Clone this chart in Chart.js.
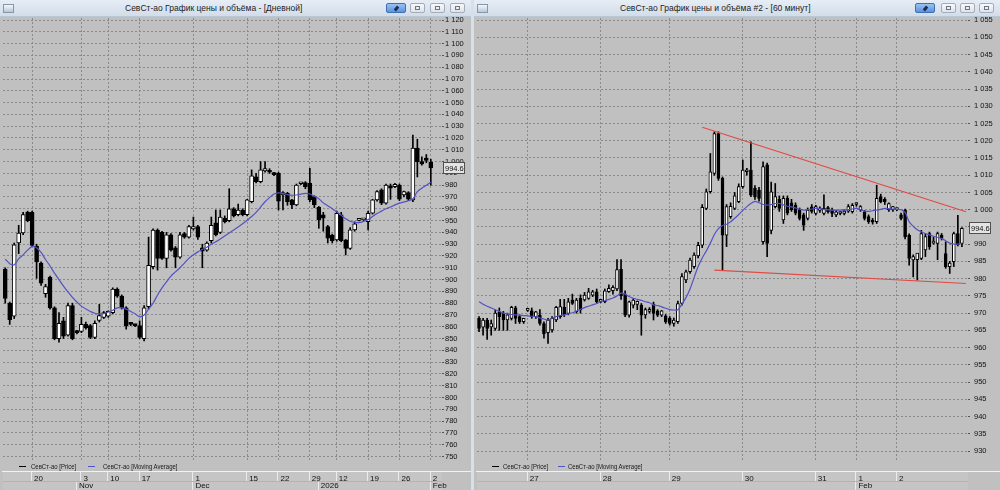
<!DOCTYPE html>
<html>
<head>
<meta charset="utf-8">
<script src="https://cdn.jsdelivr.net/npm/chart.js@4.4.1/dist/chart.umd.min.js"></script>
<style>
  body { margin: 0; width: 1000px; height: 490px; overflow: hidden; background: #d6e0eb; position: relative; font-family: 'Liberation Sans', Arial, sans-serif; }
  .win { position: absolute; top: 0; height: 490px; background: #c0c0c0; }
  .title { position: absolute; left: 0; top: 0; right: 0; height: 17px; background: linear-gradient(#e6edf5, #d2dde9); border-bottom: 1px solid #b9c6d4; box-sizing: border-box; }
  .ttl { position: absolute; top: 0; font-size: 8.5px; line-height: 16px; color: #1c1c1c; white-space: nowrap; }
  .ico { position: absolute; left: 3px; top: 4px; width: 9px; height: 7px; border: 1px solid #8797aa; background: linear-gradient(#f4f7fb, #b8c7d8); }
  .btn { position: absolute; top: 3px; width: 15px; height: 10px; border: 1px solid #a3adb9; border-radius: 2px; background: linear-gradient(#f6f8fb, #dfe4ea); box-sizing: border-box; }
  .btn i { position: absolute; left: 4px; top: 2px; width: 5px; height: 4px; border: 1px solid #6d7784; box-sizing: border-box; }
  .pin { width: 20px; background: linear-gradient(#9cc2f2, #5d92dc); border-color: #3f6fb5; }
  .pin i { left: 8px; top: 2px; width: 3px; height: 5px; border: none; background: #1d2d52; transform: rotate(40deg); }
  canvas { position: absolute; top: 17px; }
  .leg { position: absolute; top: 462px; font-size: 7.5px; color: #1a1a1a; white-space: nowrap; transform: scaleX(0.8); transform-origin: 0 0; }
  .sw { position: absolute; top: 466px; height: 1px; width: 7px; }
</style>
</head>
<body>
<div class="win" style="left:0;width:471px"></div>
<div class="win" style="left:474px;width:526px"></div>

<div class="title" style="left:0;width:471px;right:auto">
  <span class="ico"></span>
  <span class="ttl" style="left:125px">СевСт-ао График цены и объёма - [Дневной]</span>
  <span class="btn pin" style="left:386px"><i></i></span>
  <span class="btn" style="left:410px"><i></i></span>
  <span class="btn" style="left:430px"><i></i></span>
  <span class="btn" style="left:450px"><i></i></span>
</div>
<div class="title" style="left:474px;width:526px;right:auto">
  <span class="ico"></span>
  <span class="ttl" style="left:146px">СевСт-ао График цены и объёма #2 - [60 минут]</span>
  <span class="btn pin" style="left:441px"><i></i></span>
  <span class="btn" style="left:467px"><i></i></span>
  <span class="btn" style="left:486px"><i></i></span>
  <span class="btn" style="left:505px"><i></i></span>
</div>

<canvas id="daily" width="469" height="473" style="left:2px"></canvas>
<canvas id="hourly" width="524" height="473" style="left:476px"></canvas>

<span class="sw" style="left:19px;background:#000"></span>
<span class="leg" style="left:31px">СевСт-ао [Price]</span>
<span class="sw" style="left:88px;background:#5252c4"></span>
<span class="leg" style="left:103px">СевСт-ао [Moving Average]</span>
<span class="sw" style="left:492px;background:#000"></span>
<span class="leg" style="left:503px">СевСт-ао [Price]</span>
<span class="sw" style="left:558px;background:#5252c4"></span>
<span class="leg" style="left:568px">СевСт-ао [Moving Average]</span>

<script>
// ---- daily panel ----
const dSlots = 98;
const dDayTickSlots = [6, 17, 23, 30, 42, 54, 61, 68, 74, 81, 88, 95];
const dDayTickText = ["20", "3", "10", "17", "1", "15", "22", "29", "12", "19", "26", "2"];
const dMonthSlots = [16, 42, 70, 95];
const dMonthText = ["Nov", "Dec", "2026", "Feb"];

const dOpen = [909, 880, 869, 931, 939.5, 957, 957, 928.5, 914, 888,
  902, 876, 850, 865, 853, 878, 856, 856, 862, 861,
  851, 865.5, 868, 869, 872, 892, 886, 876, 862.5, 861.5,
  861, 850, 877, 911, 942, 940, 918, 938, 927, 919,
  939, 936, 943, 945, 927, 925, 933, 948, 940, 952,
  950, 960, 955, 959, 955, 966, 987, 983, 992, 992,
  990, 990, 971.7, 973.2, 967.5, 963.3, 981.2, 982.2, 981.6, 970.3,
  961.3, 954.8, 944.9, 937.8, 933.6, 954.8, 933.6, 926.5, 942.1, 950.2,
  950.6, 949.1, 956.2, 967.5, 976, 964.7, 979.4, 978.8, 980.2, 971.7,
  973.7, 967.5, 1011.5, 1000, 1003, 999.5];
const dHigh = [910, 881, 931, 946, 957, 958, 958, 930, 915, 896,
  903, 877, 872, 868, 880, 880, 857, 868, 864, 862,
  865, 879, 873, 873.5, 893, 893, 887, 877, 863, 862,
  865, 878, 936, 943, 943, 941, 940, 939, 928, 940,
  940, 946, 953, 946, 930, 932, 953, 959, 959, 954,
  977, 961, 964, 960, 968, 993, 990, 1000, 1000, 994,
  991, 991, 974.5, 974, 968, 981, 982, 983, 994.3, 971,
  962, 957, 946, 938.5, 958, 957, 934, 944, 949, 951,
  951.5, 958, 968, 975.5, 977, 981, 981, 981.5, 981, 975,
  974.5, 1022.5, 1019, 1004, 1006, 1002];
const dLow = [880, 862, 867, 922, 938, 949, 928, 901, 895, 885,
  875, 849, 847, 850, 852, 849, 854, 855, 858, 850,
  850, 864, 867, 868, 871, 885, 875, 858, 861, 860,
  850, 848, 875, 909, 908, 917, 910, 924, 910, 918,
  935, 935, 942, 934, 910, 924, 931, 937, 939, 948,
  949, 953, 954, 954, 954, 965, 982, 982, 991, 990,
  988, 959, 959, 963, 960, 962.5, 980.5, 977, 966, 961,
  943.5, 941, 931, 931, 932.5, 932, 920.9, 925.5, 941, 949.8,
  950, 942, 955.5, 966.5, 963.5, 964, 968, 978, 967, 970,
  967, 966, 987, 997, 999, 980];
const dClose = [884, 866, 929.5, 939.5, 955, 950, 929, 915, 897, 894,
  876, 850, 863, 852, 878, 850, 855, 862, 859, 851,
  863, 869.5, 872, 873, 892, 886, 876, 861, 862, 861,
  851, 876, 912, 942, 918, 918, 938, 925, 919, 938,
  936, 945, 945, 936, 924, 931, 946, 938, 953, 949,
  960, 954, 959, 955, 967.5, 988, 983, 993, 994, 991,
  989, 966.5, 973.7, 966, 963.3, 980.2, 981.6, 978.8, 967.5, 963.3,
  950.6, 952, 935, 933, 956.2, 933, 926.5, 942.1, 947.2, 950.6,
  951, 956.2, 967.5, 974.6, 964.7, 980.2, 977.4, 980.8, 968.1, 974.6,
  968.1, 1011.5, 1000, 998, 1001, 994.6];
const dMA = [917.4, 913.5, 912.5, 917.5, 921, 925, 928, 927, 923, 917,
  911.5, 905.5, 900, 894.5, 889.5, 885, 881, 877.5, 875, 873,
  871.5, 871, 871.2, 872.5, 874, 876, 876, 875, 873, 871,
  868.5, 870, 875, 880, 887, 893, 898, 903, 906.5, 910,
  914, 918, 921, 923.5, 925.5, 927.5, 930, 932, 934.5, 937,
  939.5, 942, 944.5, 947.3, 950.3, 953.5, 957, 961.5, 966, 969.5,
  972.5, 973.5, 973, 972, 971.5, 971.7, 972.5, 973, 972.5, 970.5,
  968.5, 965, 962.5, 960, 957.3, 954.5, 951.5, 949.5, 948.5, 948.3,
  949.3, 950.8, 953.5, 956, 958, 960, 961.5, 963.3, 964.8, 965.8,
  966.8, 968.5, 974.5, 977.5, 980, 982.5];

// ---- hourly panel ----
const hSlots = 121;
const hDayTickSlots = [12, 30, 47, 65, 83, 93, 103];
const hDayTickText = ["27", "28", "29", "30", "31", "1", "2"];
const hMonthSlots = [93];
const hMonthText = ["Feb"];

const hOpen = [968.5, 965.9, 968, 966, 965.6, 970.4, 970, 968, 968.5, 971.5,
  969, 967.5, 970.8, 970.7, 969, 969.4, 967, 964.3, 965.1, 968,
  969, 971.7, 969.9, 973.8, 970.4, 974.3, 973.8, 974.3, 975.2, 976.2,
  973.4, 973.3, 976.2, 976.5, 977, 982.7, 975.5, 969.4, 972.3, 972.5,
  972.3, 969.5, 970.5, 972.6, 970.7, 969.4, 969.2, 968.5, 967, 967.5,
  972.8, 979.6, 982, 983.5, 986.6, 989.7, 1000.4, 1005.2, 1010.5, 1022.1,
  1009.1, 992.6, 998, 1000.4, 1002.3, 1006.7, 1011, 1011.5, 1006.2, 1005.7,
  990.7, 1013, 994, 1000.9, 1003, 997, 1003.3, 1002, 1001.3, 999.9,
  998.5, 997.5, 1000.8, 998.9, 999.8, 998.9, 1000.6, 999.8, 998.5, 998.9,
  998.9, 999.6, 999.4, 1001.5, 999.9, 999.4, 998, 997, 996.5, 1003.8,
  1003, 999.9, 999.9, 1000, 998.5, 999.9, 992.6, 985.4, 985.5, 985.9,
  988.3, 993.1, 990.3, 990.2, 992.6, 987.3, 983.5, 984.9, 993.1, 990.2];
const hHigh = [969, 968.5, 968.5, 968, 970.9, 971.5, 970.5, 970, 972, 972,
  969.5, 968.5, 971.2, 971.5, 970.5, 971, 967.5, 968.5, 969, 972,
  974, 974, 974.3, 975.5, 974.3, 975.3, 976, 977.2, 976.6, 977,
  973.8, 977, 978.2, 978, 985.5, 985.5, 976.5, 973.5, 974.2, 973.5,
  972.8, 971.5, 971.6, 973.2, 971, 970.8, 969.6, 969, 968.6, 973.5,
  981.5, 982.5, 986, 987.5, 990.5, 1001.5, 1006, 1016.3, 1022.6, 1022.6,
  1009.5, 1001.5, 1002, 1005, 1007.5, 1014.4, 1012, 1019.7, 1007, 1006.5,
  1013.9, 1013.5, 1008, 1007.6, 1004, 1004, 1004, 1003, 1002, 1000.5,
  999, 1000.5, 1001.5, 1001.3, 1000.8, 1004.3, 1001, 1000.5, 999.8, 999.4,
  1000, 1001.5, 1001.8, 1002, 1001.2, 999.8, 998.5, 997.5, 1007.1, 1004.5,
  1003.5, 1002, 1001, 1000.5, 999, 1000.2, 993, 986.9, 987, 994,
  993, 993.5, 992, 993.5, 993.1, 990.7, 985, 993.5, 998.4, 994.8];
const hLow = [964.6, 963.6, 962.4, 963.6, 965, 965, 965, 965, 968, 967,
  967, 967, 970.5, 968.5, 968.5, 966.5, 962.7, 961.2, 964.5, 967.5,
  968.5, 969, 969.5, 972.5, 970, 970, 973.5, 974, 974.8, 972.8,
  973, 973, 976, 975.5, 976.5, 974, 969, 968.8, 971.5, 971,
  963.6, 968.5, 970, 968, 969, 969, 967, 966.5, 966.2, 967,
  972.3, 978.8, 981.5, 983, 986, 989, 1000, 1004.8, 1010, 1008.5,
  982.5, 989.3, 997.5, 1000, 1002, 1006.2, 1010, 1003.8, 1003, 1002.5,
  990, 986.4, 993, 1000.5, 999.5, 996, 998.5, 999.5, 998.5, 997,
  994, 997, 999, 998.5, 999.2, 998.5, 999, 998, 998, 998.5,
  998.5, 999.2, 999, 1001, 999.5, 997, 996, 995.8, 996, 1002,
  1001.5, 999.5, 999.5, 999.7, 997, 991.5, 983.9, 980.5, 979.6, 985.5,
  986.4, 988.5, 990, 985.5, 991.2, 983, 981.5, 983.5, 989.5, 989.3];
const hClose = [965.6, 968, 965.6, 967, 970, 969, 968, 969.5, 971.7, 968.5,
  967.5, 968.5, 971, 969, 970.4, 967, 964, 968, 968.5, 971.7,
  971.9, 969.5, 973.3, 972.8, 973.8, 970.9, 975.2, 976.2, 976.2, 973.3,
  973.6, 976.5, 977.2, 977.5, 982.6, 975, 969.4, 973.3, 973.8, 973.4,
  969.4, 971, 971, 969.9, 969.4, 970.7, 967.5, 967, 968, 972.8,
  980.6, 982, 985.4, 986.8, 989.7, 1000.7, 1005.2, 1011, 1022.1, 1009.1,
  992.6, 1000.9, 1001, 1004, 1006.7, 1011.5, 1011.5, 1004.2, 1003.8, 1003.3,
  1012.5, 990.2, 1005.2, 1003.8, 1000.4, 1003.3, 999, 1000, 999, 997.5,
  995.5, 999.9, 999.5, 1000.9, 1000.5, 1000.4, 999.4, 998.9, 999.4, 999.1,
  999.6, 1000.9, 1001.3, 1001.6, 1000.9, 997.5, 996.5, 996.4, 1003.3, 1002.3,
  1002.3, 1001.8, 1000.9, 1000.1, 997.5, 992.2, 985.9, 986.4, 987.4, 993.1,
  992.2, 989.2, 990.8, 993.1, 991.7, 983.5, 984.5, 993.1, 989.8, 994.6];
const hMA = [973.3, 972.6, 972, 971.5, 971, 970.5, 970, 969.8, 969.6, 969.5,
  969.4, 969.3, 969.2, 969.1, 969, 968.6, 968.3, 968, 968.5, 969,
  969.3, 969.5, 969.8, 970.1, 970.6, 971.1, 971.6, 972, 972.4, 972.8,
  973.3, 973.6, 974, 974.4, 975, 975.8, 975.5, 974.8, 974.3, 974,
  973.7, 973.3, 973, 972.4, 972.2, 971.8, 971.4, 971, 970.9, 971,
  972.6, 974.5, 977, 980.3, 983.5, 986, 988, 990.3, 992.8, 994.5,
  995.4, 995.8, 996.5, 997.5, 998.6, 999.8, 1000.9, 1001.8, 1002.4, 1002,
  1001.5, 1001.3, 1001.5, 1001.8, 1001.8, 1001.4, 1001, 1000.8, 1000.5, 1000.2,
  999.9, 1000, 1000.2, 1000.4, 1000.3, 1000.1, 1000, 999.9, 999.9, 999.9,
  999.9, 1000, 1000.2, 1000.4, 1000, 999.6, 999.5, 999.7, 999.9, 1000.1,
  1000.4, 1000.3, 1000.2, 1000.1, 1000, 999.2, 996.5, 995.2, 994.2, 993.6,
  993.1, 992.7, 992.3, 992, 991.6, 991, 990.3, 990, 990, 990.2];
// trend lines: [slot, price] end points
const hUpperTrend = [[55, 1023.9], [120, 999.4]];
const hLowerTrend = [[58, 982.5], [120, 978.6]];

const FONT = "'Liberation Sans', Arial, sans-serif";
const GRID = "#8a8a8a";
const MA_COLOR = "#5252c4";
const TREND_COLOR = "#e04a44";

function labelsFor(n, slots, text) {
  const out = new Array(n).fill("");
  slots.forEach((s, i) => { out[s] = text[i]; });
  return out;
}

function lineFrom(n, points) {
  const out = new Array(n).fill(null);
  points.forEach(([s, v]) => { out[s] = v; });
  return out;
}

function thousands(v) {
  return v >= 1000 ? "1 " + String(v - 1000).padStart(3, "0") : String(v);
}

// no automatic edge padding: the plot fills the window edge to edge
function noPad(s) {
  s.paddingLeft = 0; s.paddingRight = 0; s.paddingTop = 0; s.paddingBottom = 0;
}

// axis strip below the legend row
const stripPlugin = {
  id: "strip",
  beforeDraw(chart) {
    const { ctx, chartArea } = chart;
    const xs = chart.scales.x;
    const top = xs.top + 12;
    ctx.save();
    ctx.fillStyle = "#c5c5c5";
    ctx.fillRect(chartArea.left, top, chartArea.right - chartArea.left, chart.height - top);
    ctx.fillStyle = "#f2f2f2";
    ctx.fillRect(0, top - 1, chart.width, 1);
    ctx.restore();
  },
  afterDraw(chart) {
    const { ctx } = chart;
    const xs = chart.scales.x;
    const x2 = chart.scales.x2;
    const top = xs.top + 12;
    ctx.save();
    ctx.fillStyle = "#ececec";
    xs.ticks.forEach((t, i) => {
      if (t.label) ctx.fillRect(Math.round(xs.getPixelForTick(i)) - 1, top, 1, x2.top - top);
    });
    x2.ticks.forEach((t, i) => {
      if (t.label) ctx.fillRect(Math.round(x2.getPixelForTick(i)) - 1, x2.top, 1, chart.height - x2.top);
    });
    ctx.fillStyle = "#b3b3b3";
    ctx.fillRect(chart.chartArea.left, x2.top, chart.chartArea.right - chart.chartArea.left, 1);
    ctx.restore();
  }
};

// last price tag on the value axis
const priceTagPlugin = {
  id: "priceTag",
  afterDraw(chart, args, opts) {
    const ys = chart.scales.y;
    const y = Math.round(ys.getPixelForValue(opts.value));
    const { ctx } = chart;
    ctx.save();
    ctx.fillStyle = "#e4e4e4";
    ctx.strokeStyle = "#505050";
    ctx.lineWidth = 1;
    ctx.fillRect(ys.left + 1, y - 6, 22, 12);
    ctx.strokeRect(ys.left + 1.5, y - 5.5, 21, 11);
    ctx.fillStyle = "#111";
    ctx.font = "7.5px " + FONT;
    ctx.textBaseline = "middle";
    ctx.fillText(String(opts.value), ys.left + 3, y + 0.5);
    ctx.restore();
  }
};

function makeChart(id, p) {
  const n = p.slots;
  const wick = p.low.map((l, i) => [l, p.high[i]]);
  const body = p.open.map((o, i) => [o, p.close[i]]);
  const up = (i) => p.close[i] >= p.open[i];

  const datasets = [
    {
      type: "bar", data: wick, order: 4, grouped: false,
      barThickness: 1, backgroundColor: "#000", borderWidth: 0
    },
    {
      type: "bar", data: body, order: 3, grouped: false,
      barThickness: p.bodyWidth, minBarLength: 2, borderSkipped: false, borderWidth: 1,
      borderColor: "#000",
      backgroundColor: (c) => (up(c.dataIndex) ? "#ffffff" : "#000000")
    },
    {
      type: "line", data: p.ma, order: 2, borderColor: MA_COLOR, borderWidth: 1.2,
      pointRadius: 0, tension: 0.35, fill: false
    }
  ];
  (p.trends || []).forEach((t) => {
    datasets.push({
      type: "line", data: lineFrom(n, t), order: 1, borderColor: TREND_COLOR,
      borderWidth: 1.2, pointRadius: 0, spanGaps: true, fill: false
    });
  });

  return new Chart(document.getElementById(id), {
    type: "bar",
    data: { labels: labelsFor(n, p.dayTicks, p.dayText), datasets },
    options: {
      responsive: false,
      animation: false,
      devicePixelRatio: 1,
      layout: { padding: { left: 1, top: 1, right: 0, bottom: 0 } },
      plugins: {
        legend: { display: false },
        tooltip: { enabled: false },
        priceTag: { value: p.close[p.close.length - 1] }
      },
      scales: {
        x: {
          type: "category", offset: true, weight: 0,
          grid: {
            offset: false, drawTicks: true, tickLength: 14, tickColor: "rgba(0,0,0,0)", lineWidth: 1,
            color: (c) => (c.tick && c.tick.label ? GRID : "rgba(0,0,0,0)")
          },
          border: { display: false, dash: [2, 2] },
          ticks: {
            autoSkip: false, maxRotation: 0, minRotation: 0, align: "start",
            labelOffset: 2, padding: 0, color: "#111", font: { family: FONT, size: 8 }
          },
          afterFit: (s) => { s.height = 21; noPad(s); }
        },
        x2: {
          type: "category", position: "bottom", offset: true, weight: 1,
          labels: labelsFor(n, p.monthTicks, p.monthText),
          grid: { display: false, drawTicks: false },
          border: { display: false },
          ticks: {
            autoSkip: false, maxRotation: 0, minRotation: 0, align: "start",
            labelOffset: 2, padding: 0, color: "#111", font: { family: FONT, size: 8 }
          },
          afterFit: (s) => { s.height = 9; noPad(s); }
        },
        y: {
          type: "linear", position: "right", min: p.min, max: p.max,
          grid: { color: GRID, tickLength: 2, tickColor: "#555" },
          border: { display: false, dash: [2, 2] },
          ticks: {
            stepSize: p.step, includeBounds: false, autoSkip: false, padding: p.tickPad,
            color: "#111", font: { family: FONT, size: 7.5 }, callback: thousands
          },
          afterFit: (s) => { s.width = p.axisWidth; noPad(s); }
        }
      }
    },
    plugins: [stripPlugin, priceTagPlugin]
  });
}

makeChart("daily", {
  slots: dSlots, open: dOpen, high: dHigh, low: dLow, close: dClose, ma: dMA,
  dayTicks: dDayTickSlots, dayText: dDayTickText,
  monthTicks: dMonthSlots, monthText: dMonthText,
  min: 747.1, max: 1121.7, step: 10, axisWidth: 29, tickPad: 1, bodyWidth: 4
});

makeChart("hourly", {
  slots: hSlots, open: hOpen, high: hHigh, low: hLow, close: hClose, ma: hMA,
  trends: [hUpperTrend, hLowerTrend],
  dayTicks: hDayTickSlots, dayText: hDayTickText,
  monthTicks: hMonthSlots, monthText: hMonthText,
  min: 927.4, max: 1055.6, step: 5, axisWidth: 32, tickPad: 4, bodyWidth: 3
});
</script>
</body>
</html>
